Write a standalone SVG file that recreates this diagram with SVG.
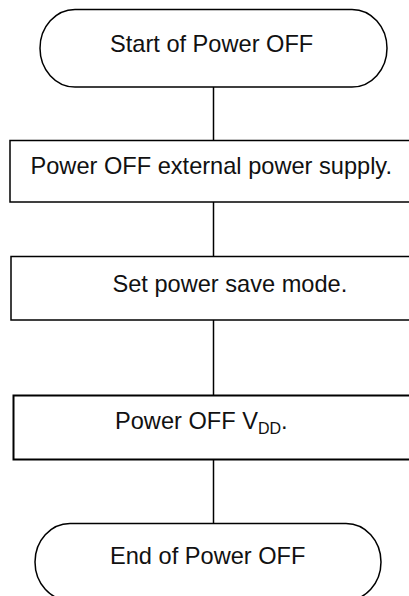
<svg xmlns="http://www.w3.org/2000/svg" width="409" height="596" viewBox="0 0 409 596">
<style>
.shape{fill:#fff;stroke:#000;stroke-width:1.5}
.conn{stroke:#000;stroke-width:1.5;fill:none}
.lbl{font-family:"Liberation Sans",Arial,sans-serif;font-size:23.6px;fill:#111}
</style>
<rect width="409" height="596" fill="#fff"/>
<g id="connectors">
<line class="conn" x1="213.5" y1="87" x2="213.5" y2="140"/>
<line class="conn" x1="213.5" y1="202" x2="213.5" y2="256.5"/>
<line class="conn" x1="213.5" y1="320" x2="213.5" y2="395.5"/>
<line class="conn" x1="213.5" y1="460" x2="213.5" y2="523.5"/>
</g>
<g id="start">
<rect class="shape" x="40" y="9.5" width="347" height="77.5" rx="35" ry="38.75"/>
<text class="lbl" x="110" y="52">Start of Power OFF</text>
</g>
<g id="step1">
<rect class="shape" x="10" y="140.5" width="410" height="61.5"/>
<text class="lbl" x="30.5" y="173.5">Power OFF external power supply.</text>
</g>
<g id="step2">
<rect class="shape" x="11" y="256.5" width="410" height="63.5"/>
<text class="lbl" x="112.5" y="291.5">Set power save mode.</text>
</g>
<g id="step3">
<rect class="shape" x="13.5" y="395.5" width="410" height="64" style="stroke-width:2"/>
<text class="lbl" x="115" y="428.5">Power OFF V<tspan font-size="16" dy="5">DD</tspan><tspan dy="-5">.</tspan></text>
</g>
<g id="end">
<rect class="shape" x="35" y="523.5" width="346" height="77" rx="35" ry="38.5"/>
<text class="lbl" x="110" y="563.5">End of Power OFF</text>
</g>
</svg>
